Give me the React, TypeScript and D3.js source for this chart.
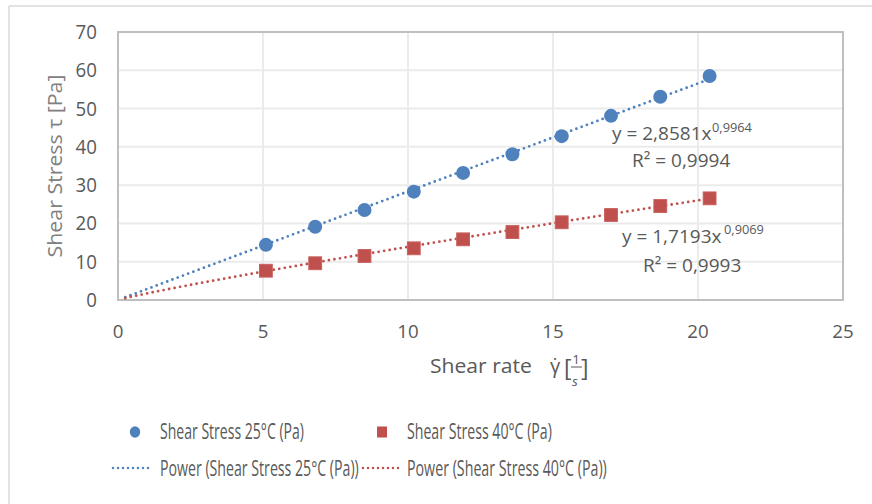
import React, { useLayoutEffect, useRef, useState } from "react";
import * as d3 from "d3";

const shearRate = [5.1, 6.8, 8.5, 10.2, 11.9, 13.6, 15.3, 17.0, 18.7, 20.4];
const stress25 = [14.4, 19.15, 23.5, 28.3, 33.2, 38.05, 42.8, 48.1, 53.1, 58.5];
const stress40 = [7.65, 9.6, 11.5, 13.5, 15.85, 17.75, 20.3, 22.2, 24.55, 26.55];
const fitCoef = [2.8581, 1.7193];
const fitExp = [0.9964, 0.9069];
const fitStart = [0.25, 0.25];
const eqMain = ["y = 2,8581x", "y = 1,7193x"];
const eqSup = ["0,9964", "0,9069"];
const eqR2 = ["R² = 0,9994", "R² = 0,9993"];
const xTicks = [0, 5, 10, 15, 20, 25];
const yTicks = [0, 10, 20, 30, 40, 50, 60, 70];
const seriesNames = ["Shear Stress 25°C (Pa)", "Shear Stress 40°C (Pa)"];
const trendNames = ["Power (Shear Stress 25°C (Pa))", "Power (Shear Stress 40°C (Pa))"];

const BLUE = "#4f81bd";
const RED = "#c0504d";
const TXT = "#595959";
const FONT = "'Open Sans', sans-serif";

type FitProps = {
  x: number;
  y: number;
  width: number;
  fs: number;
  fill?: string;
  anchor?: "start" | "middle" | "end";
  rotate?: number;
  children: React.ReactNode;
};

function FitText({ x, y, width, fs, fill = TXT, anchor = "start", rotate = 0, children }: FitProps) {
  const ref = useRef<SVGTextElement>(null);
  const [s, setS] = useState(1);
  useLayoutEffect(() => {
    if (ref.current) {
      const w = ref.current.getComputedTextLength();
      if (w > 0) setS(width / w);
    }
  }, [width, fs]);
  return (
    <g transform={`translate(${x},${y}) rotate(${rotate}) scale(${s},1)`}>
      <text ref={ref} x={0} y={0} fontSize={fs} fill={fill} textAnchor={anchor}>
        {children}
      </text>
    </g>
  );
}

const tickW = (t: number) => String(t).length * 10.7;

export default function App() {
  const x = d3.scaleLinear().domain([0, 25]).range([118, 843]);
  const y = d3.scaleLinear().domain([0, 70]).range([300, 32]);
  const colors = [BLUE, RED];

  const trend = (i: number) => {
    const xs = d3.range(fitStart[i], shearRate[shearRate.length - 1] + 0.0001, 0.05);
    const gen = d3
      .line<number>()
      .x((v) => x(v))
      .y((v) => y(fitCoef[i] * Math.pow(v, fitExp[i])));
    return gen(xs) || "";
  };

  const eqPos = [
    { x: 612, y: 140, sx: 712, sy: 131.7, rx: 632, ry: 167 },
    { x: 622, y: 243.3, sx: 724, sy: 234.3, rx: 643, ry: 271.7 },
  ];

  return (
    <svg
      width={872}
      height={504}
      style={{ position: "absolute", left: 0, top: 0, background: "#fff" }}
      fontFamily={FONT}
    >
      <rect x={0} y={0} width={872} height={504} fill="#fff" />
      {/* outer frame */}
      <line x1={9} y1={6} x2={872} y2={6} stroke="#d9d9d9" strokeWidth={1.5} />
      <line x1={9} y1={6} x2={9} y2={504} stroke="#d9d9d9" strokeWidth={1.5} />

      {/* gridlines */}
      {yTicks.map((t) => (
        <line key={"gy" + t} x1={x(0)} x2={x(25)} y1={y(t)} y2={y(t)} stroke="#ebebeb" strokeWidth={2} />
      ))}
      {xTicks.map((t) => (
        <line key={"gx" + t} x1={x(t)} x2={x(t)} y1={y(0)} y2={y(70)} stroke="#ebebeb" strokeWidth={2} />
      ))}
      <rect x={x(0)} y={y(70)} width={x(25) - x(0)} height={y(0) - y(70)} fill="none" stroke="#bfbfbf" strokeWidth={2} />

      {/* tick labels */}
      {yTicks.map((t) => (
        <FitText key={"ty" + t} x={97} y={y(t) + 7} width={tickW(t)} fs={19.5} anchor="end">
          {t}
        </FitText>
      ))}
      {xTicks.map((t) => (
        <FitText key={"tx" + t} x={x(t)} y={337.5} width={tickW(t)} fs={19} anchor="middle">
          {t}
        </FitText>
      ))}

      {/* axis titles */}
      <FitText x={62} y={166} rotate={-90} width={183} fs={19.5} fill="#808080" anchor="middle">
        Shear Stress τ [Pa]
      </FitText>
      <FitText x={430} y={373} width={102} fs={20.5}>
        Shear rate
      </FitText>
      <text x={550} y={373} fontSize={20} fill={TXT}>
        γ̇
      </text>
      <text x={564} y={376} fontSize={23} fill={TXT}>
        [
      </text>
      <text x={576} y={363.5} fontSize={13.5} fill={TXT} textAnchor="middle">
        1
      </text>
      <line x1={571} x2={582} y1={367} y2={367} stroke={TXT} strokeWidth={1} />
      <text x={575} y={386} fontSize={13.5} fill={TXT} textAnchor="middle" fontStyle="italic">
        s
      </text>
      <text x={581} y={376} fontSize={23} fill={TXT}>
        ]
      </text>

      {/* trendlines */}
      {[0, 1].map((i) => (
        <path
          key={"tr" + i}
          d={trend(i)}
          fill="none"
          stroke={colors[i]}
          strokeWidth={2.8}
          strokeDasharray="0 5.6"
          strokeLinecap="round"
        />
      ))}

      {/* markers */}
      {shearRate.map((v, j) => (
        <rect
          key={"sq" + j}
          x={x(v) - 6.4}
          y={y(stress40[j]) - 6.4}
          width={12.8}
          height={12.8}
          fill={RED}
          stroke="#c9605d"
          strokeWidth={1}
        />
      ))}
      {shearRate.map((v, j) => (
        <circle key={"c" + j} cx={x(v)} cy={y(stress25[j])} r={7} fill={BLUE} />
      ))}

      {/* equations */}
      {[0, 1].map((i) => (
        <g key={"eq" + i} fill={TXT}>
          <text x={eqPos[i].x} y={eqPos[i].y} fontSize={19}>
            {eqMain[i]}
          </text>
          <text x={eqPos[i].sx} y={eqPos[i].sy} fontSize={12.8}>
            {eqSup[i]}
          </text>
          <text x={eqPos[i].rx} y={eqPos[i].ry} fontSize={19}>
            {eqR2[i]}
          </text>
        </g>
      ))}

      {/* legend */}
      <ellipse cx={135} cy={432} rx={5.2} ry={5.8} fill={BLUE} />
      <FitText x={160} y={438.5} width={144} fs={22.5}>
        {seriesNames[0]}
      </FitText>
      <rect x={377} y={426.5} width={10} height={11} fill={RED} />
      <FitText x={407} y={438.5} width={145} fs={22.5}>
        {seriesNames[1]}
      </FitText>
      <line x1={113} x2={153} y1={468} y2={468} stroke={BLUE} strokeWidth={2.5} strokeDasharray="0 5" strokeLinecap="round" />
      <FitText x={160} y={475.5} width={199} fs={22.5}>
        {trendNames[0]}
      </FitText>
      <line x1={363} x2={402} y1={468} y2={468} stroke={RED} strokeWidth={2.5} strokeDasharray="0 5" strokeLinecap="round" />
      <FitText x={407} y={475.5} width={200} fs={22.5}>
        {trendNames[1]}
      </FitText>
    </svg>
  );
}
